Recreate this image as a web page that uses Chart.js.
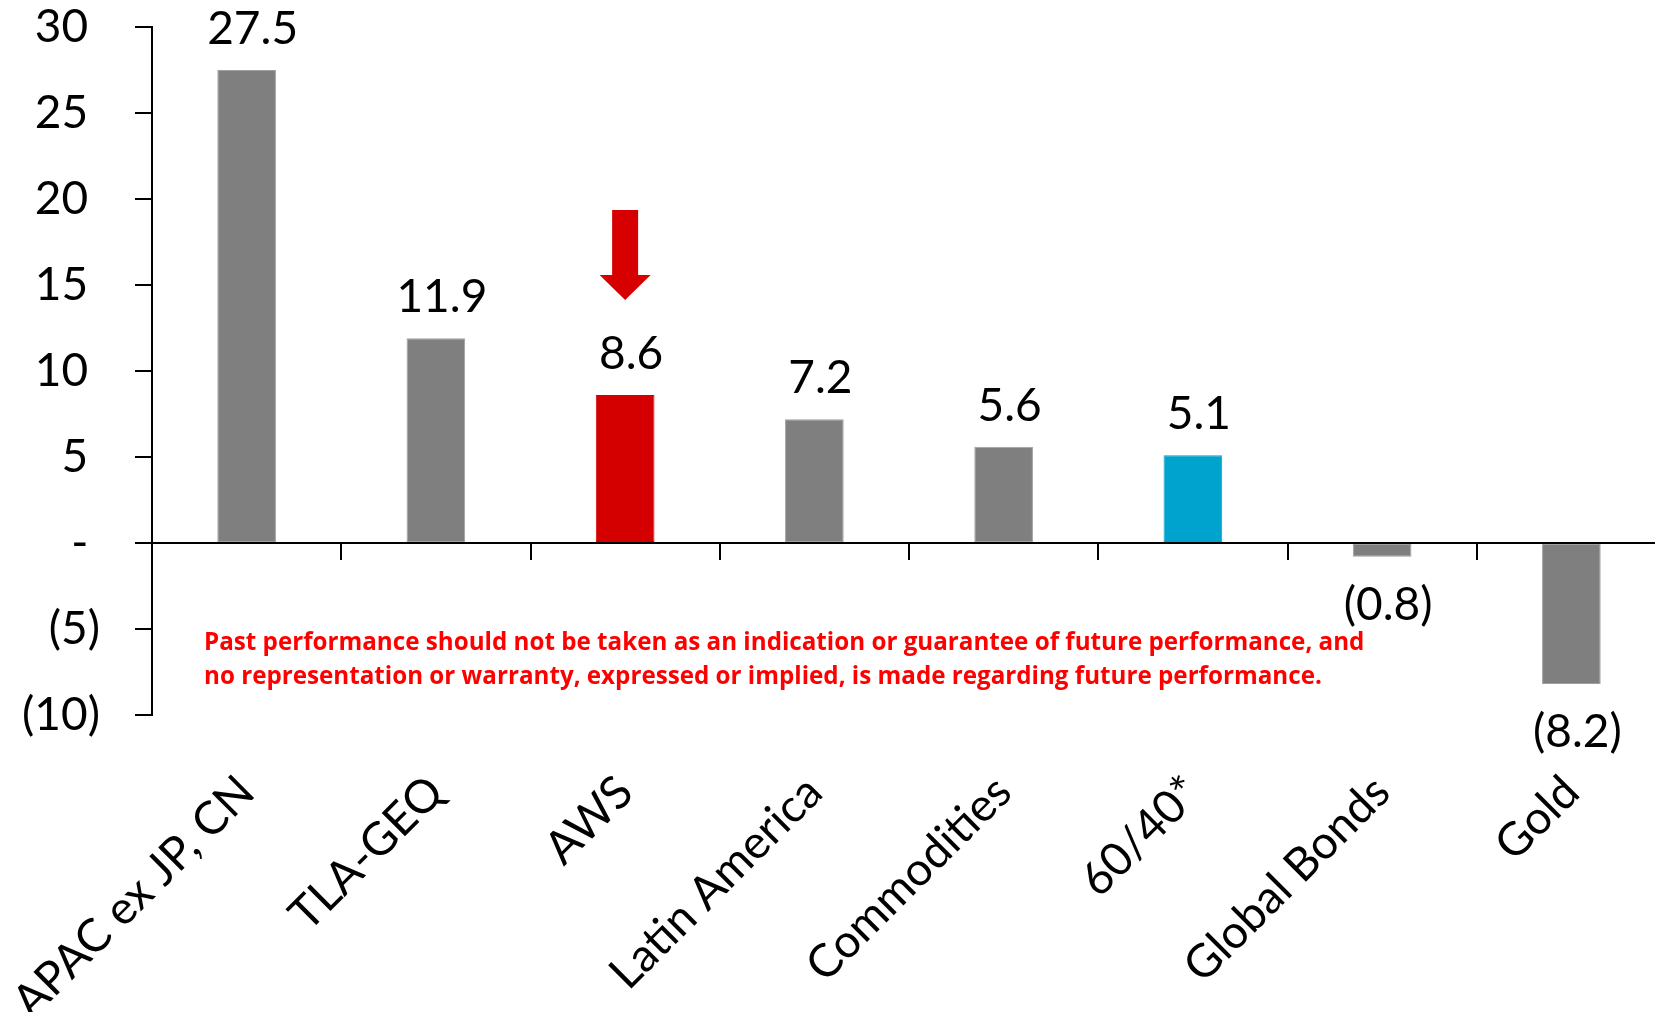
<!DOCTYPE html>
<html>
<head>
<meta charset="utf-8">
<script src="https://cdn.jsdelivr.net/npm/chart.js@4.4.1/dist/chart.umd.min.js"></script>
<style>
  html, body { margin: 0; padding: 0; background: #fff; overflow: hidden; width: 1655px; height: 1012px; }
  #wrap { position: absolute; left: 0; top: 0; width: 1670px; height: 1012px; }
</style>
</head>
<body>
<div id="wrap"><canvas id="chart" width="1670" height="1012"></canvas></div>
<script>
// Annualised returns by strategy / asset class
const categories = ['APAC ex JP, CN', 'TLA-GEQ', 'AWS', 'Latin America', 'Commodities', '60/40*', 'Global Bonds', 'Gold'];
const returns = [27.5, 11.9, 8.6, 7.2, 5.6, 5.1, -0.8, -8.2];
const yTickValues = [-10, -5, 0, 5, 10, 15, 20, 25, 30];
const disclaimerLines = [
  'Past performance should not be taken as an indication or guarantee of future performance, and',
  'no representation or warranty, expressed or implied, is made regarding future performance.'
];

const GREY = '#7F7F7F';
const HIGHLIGHT = { 'AWS': '#D40000', '60/40*': '#00A3CD' };
const ARROW_RED = '#D60000';
const TEXT_SIZE = 46;

Chart.defaults.font.family = 'Lato';
Chart.defaults.color = '#000';

// accounting-style number formats
function fmtAxis(v) {
  if (v === 0) return '- ';
  return v < 0 ? '(' + (-v) + ')' : v + ' ';
}
function fmtValue(v) {
  return v < 0 ? '(' + (-v).toFixed(1) + ')' : v.toFixed(1);
}

const overlay = {
  id: 'overlay',
  afterDatasetsDraw(chart) {
    const { ctx, chartArea, scales: { y } } = chart;
    const meta = chart.getDatasetMeta(0);
    ctx.save();

    // value labels above / below each bar
    ctx.font = TEXT_SIZE + 'px Lato';
    ctx.fillStyle = '#000';
    ctx.textAlign = 'center';
    ctx.textBaseline = 'alphabetic';
    meta.data.forEach((bar, i) => {
      const v = returns[i];
      const ty = v >= 0 ? bar.y - 26 : bar.y + 63;
      ctx.fillText(fmtValue(v), bar.x + 6, ty);
    });

    // pointer arrow above the AWS bar
    const b = meta.data[categories.indexOf('AWS')];
    const ax = b.x, top = b.y;
    ctx.fillStyle = ARROW_RED;
    ctx.beginPath();
    ctx.moveTo(ax - 13, top - 185);
    ctx.lineTo(ax + 13, top - 185);
    ctx.lineTo(ax + 13, top - 120);
    ctx.lineTo(ax + 25.5, top - 120);
    ctx.lineTo(ax, top - 95);
    ctx.lineTo(ax - 25.5, top - 120);
    ctx.lineTo(ax - 13, top - 120);
    ctx.closePath();
    ctx.fill();

    // disclaimer
    const zero = y.getPixelForValue(0);
    ctx.fillStyle = '#FF0000';
    ctx.font = 'bold 24.2px "Open Sans"';
    ctx.textAlign = 'left';
    disclaimerLines.forEach((t, i) => ctx.fillText(t, chartArea.left + 52, zero + 107 + 34 * i));

    ctx.restore();
  }
};

new Chart(document.getElementById('chart'), {
  type: 'bar',
  data: {
    labels: categories,
    datasets: [{
      data: returns,
      backgroundColor: categories.map(c => HIGHLIGHT[c] || GREY),
      borderColor: categories.map(c => HIGHLIGHT[c] || '#A0A0A0'),
      borderWidth: 1,
      borderSkipped: false,
      barPercentage: 0.31,
      categoryPercentage: 1.0
    }]
  },
  options: {
    responsive: false,
    animation: false,
    layout: { padding: { top: 27, right: 4, bottom: 0, left: 0 } },
    plugins: { legend: { display: false }, tooltip: { enabled: false } },
    scales: {
      x: {
        grid: { display: false },
        border: { display: false },
        ticks: { font: { size: TEXT_SIZE }, color: '#000', minRotation: 45, maxRotation: 45, autoSkip: false, padding: 42 },
        afterFit: s => { s.height = 297; s.paddingLeft = 0; s.paddingRight = 0; }
      },
      x2: {
        type: 'category',
        axis: 'x',
        position: { y: 0 },
        offset: true,
        grid: { display: true, offset: true, drawOnChartArea: false, drawTicks: true, tickLength: 16, color: '#000', lineWidth: 2 },
        border: { display: true, color: '#000', width: 2 },
        ticks: { display: false },
        afterFit: s => { s.height = 0; s.paddingLeft = 0; s.paddingRight = 0; }
      },
      y: {
        min: -10,
        max: 30,
        afterBuildTicks: s => { s.ticks = yTickValues.map(v => ({ value: v })); },
        afterFit: s => { s.width = 152; s.paddingTop = 0; s.paddingBottom = 0; },
        ticks: { callback: v => fmtAxis(v), font: { size: TEXT_SIZE }, color: '#000', padding: 35 },
        grid: { display: true, drawOnChartArea: false, drawTicks: true, tickLength: 17, color: '#000', lineWidth: 2 },
        border: { display: true, color: '#000', width: 2 }
      }
    }
  },
  plugins: [overlay]
});
</script>
</body>
</html>
